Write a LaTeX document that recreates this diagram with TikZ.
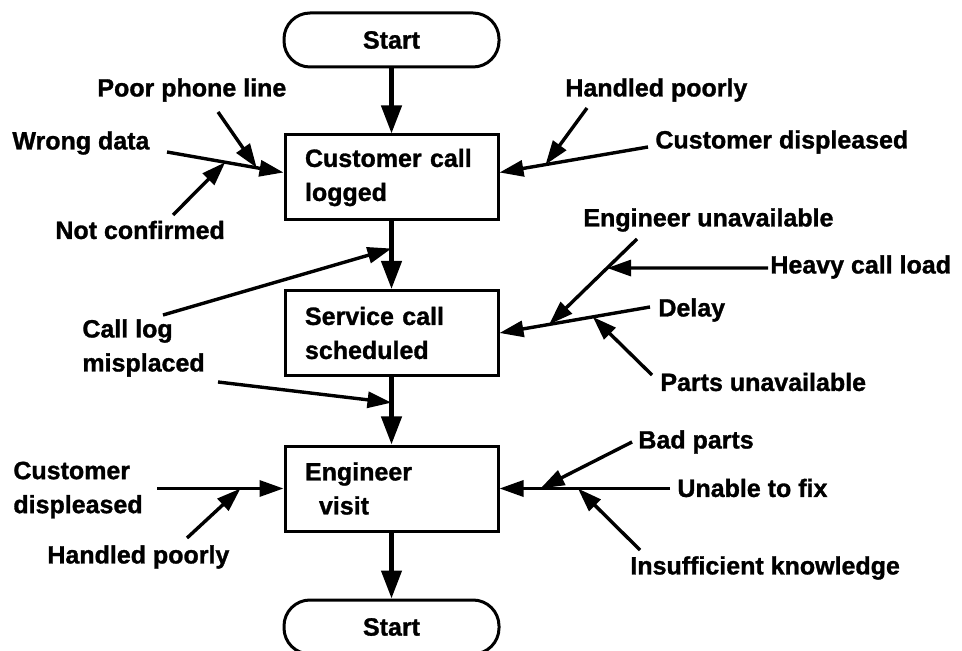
\documentclass[tikz,border=0pt]{standalone}
\usepackage{fontspec}
\setmainfont{Liberation Sans}[BoldFeatures={FakeBold=1.2}]
\usepackage{tikz}
\usetikzlibrary{
  calc,        % points on the cause lines: ($(A)!t!(B)$)
  arrows.meta  % Triangle tips
}

\tikzset{
  every node/.style={font=\fontsize{12.5}{17}\selectfont\bfseries},
  term/.style={draw, line width=1.5pt, rounded corners=13pt,
    minimum width=107.5pt, minimum height=27pt, inner sep=0pt},
  stepbox/.style={draw, line width=1.5pt, minimum width=106.5pt,
    minimum height=42.5pt, text width=86.5pt, inner xsep=10pt,
    inner ysep=0pt, align=left},
  flow/.style={line width=2.2pt, -{Triangle[length=14pt,width=10pt]}},
  cause/.style={line width=1.7pt, -{Triangle[length=12pt,width=8pt]}},
  cause label/.style={inner sep=1pt, align=left, anchor=west},
}

\begin{document}
\begin{tikzpicture}[x=0.5pt, y=-0.5pt]
        \useasboundingbox (0,0) rectangle (962,651);

        % Main flow
        \node[term] (start) at (391.5,40) {Start};
        \node[stepbox] (b1) at (391.5,177.5) {Customer call\\logged};
        \node[stepbox] (b2) at (391.5,333) {Service call\\scheduled};
        \node[stepbox] (b3) at (391.5,488.5) {Engineer\\\hspace*{7pt}visit};
        \node[term] (stop) at (391.5,627) {Start};

        \draw[flow] (start) -- (b1);
        \draw[flow] (b1) -- (b2);
        \draw[flow] (b2) -- (b3);
        \draw[flow] (b3) -- (stop);

        % Cause labels
        \node[cause label] (poor) at (95,90) {Poor phone line};
        \node[cause label] (wrong) at (10,143) {Wrong data};
        \node[cause label] (notconf) at (53,230) {Not confirmed};
        \node[cause label] (hp1) at (563,90) {Handled poorly};
        \node[cause label] (cd1) at (653,142) {Customer displeased};
        \node[cause label] (logmis) at (80,348) {Call log\\misplaced};
        \node[cause label] (engu) at (581,220) {Engineer unavailable};
        \node[cause label] (heavy) at (768,267) {Heavy call load};
        \node[cause label] (delay) at (656,310) {Delay};
        \node[cause label] (partsu) at (658,382) {Parts unavailable};
        \node[cause label] (cd3) at (11,490) {Customer\\displeased};
        \node[cause label] (hp3) at (45,557) {Handled poorly};
        \node[cause label] (bad) at (636,442) {Bad parts};
        \node[cause label] (unable) at (675,488) {Unable to fix};
        \node[cause label] (insuf) at (628,568) {Insufficient knowledge};

        % Causes at the call log box
        \coordinate (wrongT) at (167,152);
        \coordinate (wrongH) at ($(b1.west)+(0,-5)$);
        \coordinate (poorT) at (218,112);
        \coordinate (ncT) at (173,215);
        \draw[cause] (wrongT) -- (wrongH);
        \draw[cause] (poorT) -- ($(wrongT)!0.77!(wrongH)$);
        \draw[cause] (ncT) -- ($(wrongT)!0.5!(wrongH)$);

        \coordinate (cd1T) at (648,147);
        \coordinate (cd1H) at ($(b1.east)+(0,-5)$);
        \coordinate (hp1T) at (587,108);
        \draw[cause] (cd1T) -- (cd1H);
        \draw[cause] (hp1T) -- ($(cd1T)!0.69!(cd1H)$);

        % Call log misplaced, on both flow lines
        \coordinate (lmA) at (163,315);
        \coordinate (lmB) at (218,382);
        \draw[cause] (lmA) -- ($(b1.south)!0.4!(b2.north)$);
        \draw[cause] (lmB) -- ($(b2.south)!0.38!(b3.north)$);

        % Causes at the scheduling box
        \coordinate (delayT) at (650,307);
        \coordinate (enguT) at (637,239);
        \coordinate (enguH) at ($(delayT)!0.67!(b2.east)$);
        \coordinate (heavyT) at (768,268);
        \coordinate (partsT) at (652,375);
        \draw[cause] (delayT) -- (b2.east);
        \draw[cause] (enguT) -- (enguH);
        \draw[cause] (heavyT) -- ($(enguT)!0.34!(enguH)$);
        \draw[cause] (partsT) -- ($(delayT)!0.38!(b2.east)$);

        % Causes at the visit box
        \coordinate (cd3T) at (157,488.5);
        \coordinate (hp3T) at (187,538);
        \draw[cause] (cd3T) -- (b3.west);
        \draw[cause] (hp3T) -- ($(cd3T)!0.66!(b3.west)$);

        \coordinate (unableT) at (670,488.5);
        \coordinate (badT) at (632,442);
        \coordinate (insufT) at (640,550);
        \draw[cause] (unableT) -- (b3.east);
        \draw[cause] (badT) -- ($(unableT)!0.76!(b3.east)$);
        \draw[cause] (insufT) -- ($(unableT)!0.54!(b3.east)$);
    \end{tikzpicture}
\end{document}
